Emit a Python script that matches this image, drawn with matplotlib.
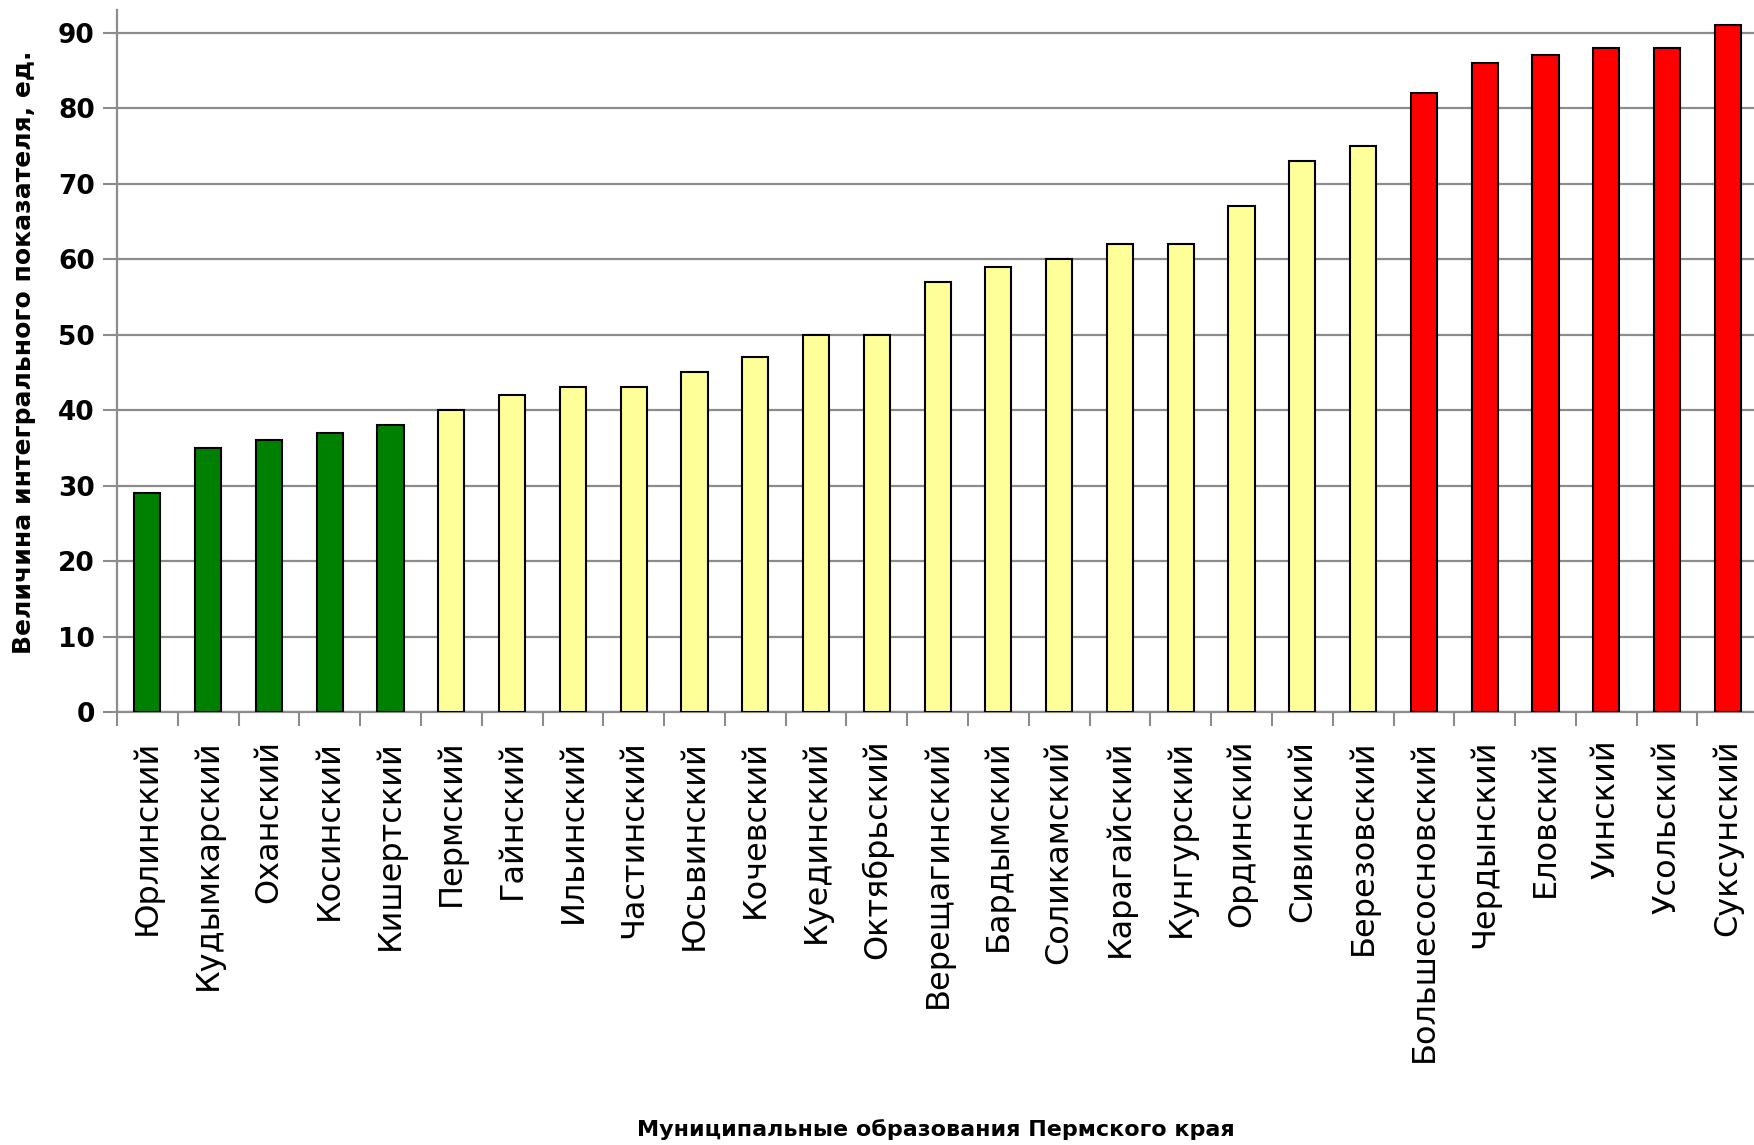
import matplotlib

matplotlib.use("Agg")
import matplotlib.pyplot as plt  # noqa: E402
from matplotlib.ticker import FixedLocator, NullFormatter  # noqa: E402

districts = [
    "Юрлинский", "Кудымкарский", "Оханский", "Косинский", "Кишертский",
    "Пермский", "Гайнский", "Ильинский", "Частинский", "Юсьвинский",
    "Кочевский", "Куединский", "Октябрьский", "Верещагинский", "Бардымский",
    "Соликамский", "Карагайский", "Кунгурский", "Ординский", "Сивинский",
    "Березовский", "Большесосновский", "Чердынский", "Еловский", "Уинский",
    "Усольский", "Суксунский",
]
values = [29, 35, 36, 37, 38, 40, 42, 43, 43, 45, 47, 50, 50, 57, 59, 60,
          62, 62, 67, 73, 75, 82, 86, 87, 88, 88, 91]
groups = ["low"] * 5 + ["mid"] * 16 + ["high"] * 6
group_colors = {"low": "#008000", "mid": "#FFFF99", "high": "#FF0000"}
y_ticks = [0, 10, 20, 30, 40, 50, 60, 70, 80, 90]

fig = plt.figure(figsize=(17.54, 11.45), dpi=100)
ax = fig.add_axes([117 / 1754, 1 - 712 / 1145, 1 - 117 / 1754, 702 / 1145])

xs = list(range(len(districts)))
ax.bar(xs, values, width=0.43, color=[group_colors[g] for g in groups],
       edgecolor="black", linewidth=1.5, zorder=3)

ax.set_xlim(-0.5, 26.43)
ax.set_ylim(0, 93)
ax.set_yticks(y_ticks)
ax.set_yticklabels([str(v) for v in y_ticks], fontsize=19, fontweight="bold",
                   family="DejaVu Sans")
ax.yaxis.grid(True, color="#8c8c8c", linewidth=1.6, zorder=0)
ax.tick_params(axis="y", length=10, width=1.5, color="#8c8c8c", pad=6)

# category labels centred, ticks on the boundaries
ax.set_xticks(xs)
ax.set_xticklabels(districts, rotation=90, fontsize=23, family="DejaVu Sans",
                   va="top", ha="center")
ax.tick_params(axis="x", which="major", length=0, pad=20)
ax.xaxis.set_minor_locator(FixedLocator([i - 0.5 for i in range(len(districts) + 1)]))
ax.xaxis.set_minor_formatter(NullFormatter())
ax.tick_params(axis="x", which="minor", length=10, width=1.5, color="#8c8c8c")

for side in ("top", "right"):
    ax.spines[side].set_visible(False)
for side in ("left", "bottom"):
    ax.spines[side].set_color("#8c8c8c")
    ax.spines[side].set_linewidth(1.6)

fig.text(24 / 1754, 1 - 352 / 1145, "Величина интегрального показателя, ед.",
         rotation=90, fontsize=18, fontweight="bold", ha="center", va="center")
fig.text(936 / 1754, 1 - 1130 / 1145, "Муниципальные образования Пермского края",
         fontsize=16, fontweight="bold", ha="center", va="center")

fig.savefig("out.png", dpi=100, facecolor="white")
